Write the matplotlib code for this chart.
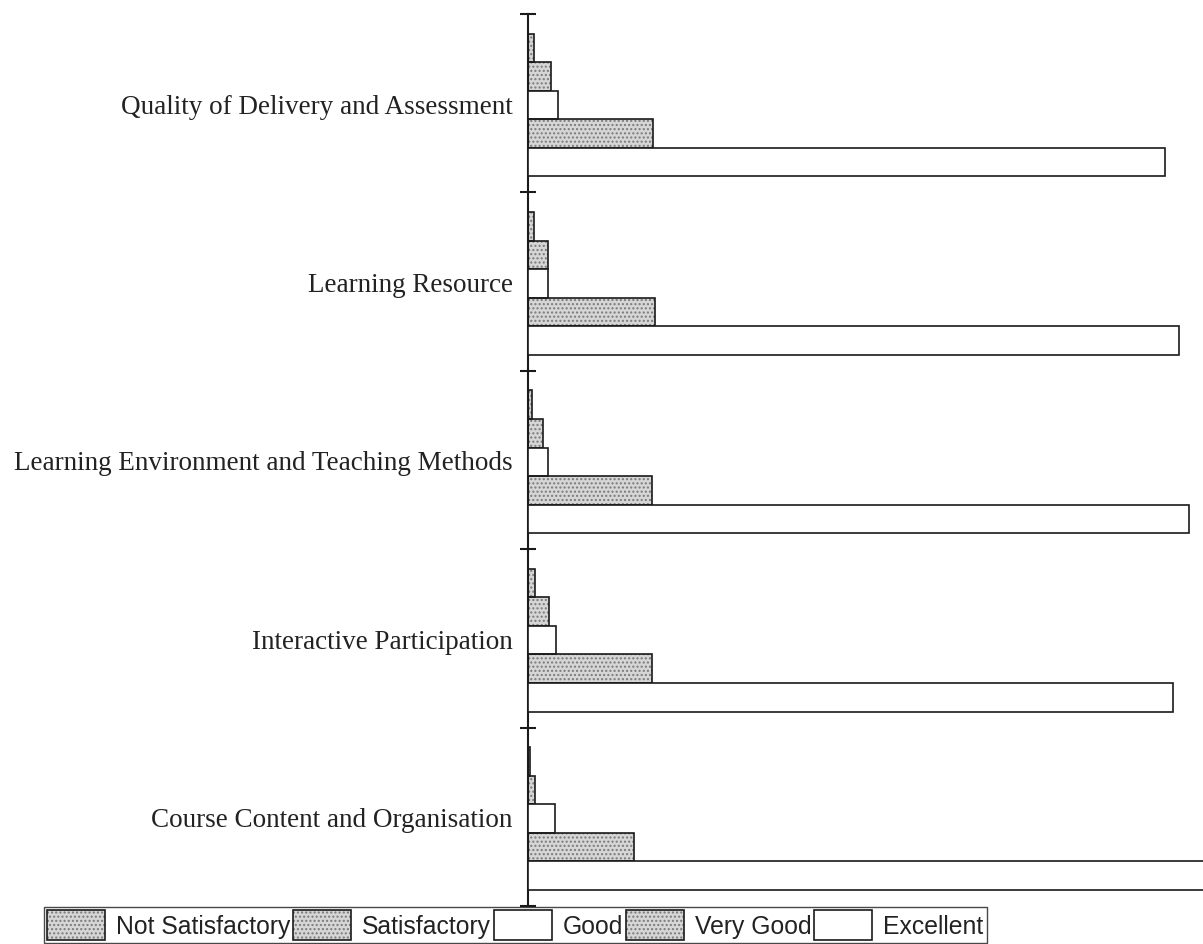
import matplotlib
matplotlib.use("Agg")
import matplotlib.pyplot as plt
from matplotlib.patches import Patch
from matplotlib.legend_handler import HandlerTuple

categories = [
    "Quality of Delivery and Assessment",
    "Learning Resource",
    "Learning Environment and Teaching Methods",
    "Interactive Participation",
    "Course Content and Organisation",
]
series = ["Not Satisfactory", "Satisfactory", "Good", "Very Good", "Excellent"]
not_satisfactory = [0.7, 0.7, 0.5, 0.9, 0.2]
satisfactory = [2.8, 2.4, 1.8, 2.6, 0.9]
good = [3.6, 2.4, 2.4, 3.4, 3.3]
very_good = [15.2, 15.4, 15.1, 15.1, 12.9]
excellent = [77.4, 79.1, 80.3, 78.4, 82.7]
values = [not_satisfactory, satisfactory, good, very_good, excellent]
stippled = [True, True, False, True, False]

STIP_FACE = "#d6d6d6"
STIP_DOT = "#7a7a7a"

fig = plt.figure(figsize=(12.03, 9.45), dpi=100)
ax = fig.add_axes([528 / 1203, 1 - 907 / 945, 1 - 528 / 1203, (907 - 15) / 945])

bh = 0.16
ypos = list(range(len(categories)))
for j, (name, vals) in enumerate(zip(series, values)):
    ys = [y + (j - 2) * bh + 0.01 for y in ypos]
    if stippled[j]:
        ax.barh(ys, vals, height=bh, color=STIP_FACE, edgecolor=STIP_DOT,
                hatch="....", linewidth=0, zorder=2)
    ax.barh(ys, vals, height=bh, facecolor="none" if stippled[j] else "white",
            edgecolor="#1a1a1a", linewidth=1.2, zorder=3)

ax.set_xlim(0, 82.0)
ax.set_ylim(len(categories) - 0.5, -0.5)
for s in ["top", "right", "bottom"]:
    ax.spines[s].set_visible(False)
ax.spines["left"].set_linewidth(1.5)
ax.spines["left"].set_color("#1a1a1a")
ax.set_xticks([])
ax.set_yticks(ypos)
ax.set_yticklabels(categories, family="Liberation Serif", fontsize=19.5, color="#222222")
ax.tick_params(axis="y", which="major", length=0, pad=11)
ax.set_yticks([y - 0.5 for y in ypos] + [len(categories) - 0.5], minor=True)
ax.tick_params(axis="y", which="minor", direction="inout", length=12, width=1.5, color="#1a1a1a")
ax.set_facecolor("none")

handles = []
for j in range(len(series)):
    if stippled[j]:
        h = (Patch(facecolor=STIP_FACE, edgecolor=STIP_DOT, hatch="....", linewidth=0),
             Patch(facecolor="none", edgecolor="#1a1a1a", linewidth=1.2))
    else:
        h = (Patch(facecolor="white", edgecolor="#1a1a1a", linewidth=1.2),)
    handles.append(h)

leg = fig.legend(handles, series, loc="upper left",
                 bbox_to_anchor=(44 / 1203, 1 - 908 / 945),
                 ncol=5, handler_map={tuple: HandlerTuple(ndivide=1)},
                 prop={"family": "Liberation Sans", "size": 17.8},
                 handlelength=2.35, handleheight=1.5, handletextpad=0.45,
                 columnspacing=0.1, borderpad=0.12, borderaxespad=0,
                 fancybox=False, frameon=True, edgecolor="#1a1a1a")
leg.get_frame().set_linewidth(1.0)
for t in leg.get_texts():
    t.set_color("#222222")

fig.savefig("out.png", dpi=100)
